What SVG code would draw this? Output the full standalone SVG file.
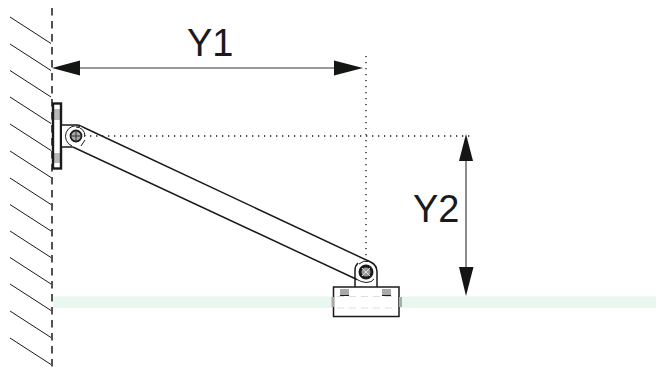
<svg xmlns="http://www.w3.org/2000/svg" width="656" height="369" viewBox="0 0 656 369">
<defs><style>
.h{stroke:#1a1a1a;stroke-width:1;fill:none}
.d{stroke:#1a1a1a;stroke-width:1.3;fill:none;stroke-dasharray:1.3 4.7}
.k{stroke:#1a1a1a;fill:none;stroke-width:1.5}
.n{stroke:#1a1a1a;fill:none;stroke-width:1}
.a{fill:#141614}
.t{font-family:"Liberation Sans",Arial,sans-serif;font-size:38px;fill:#1a1a1a}
</style></defs>
<g id="glass"><rect x="53" y="296.500" width="603" height="11.500" fill="#e8f8ef"/></g>
<g id="wall">
<path class="h" d="M10 17L51 43.500M10 44L51 70.500M10 70.500L51 97M10 97L51 123.500M10 124L51 150.500M10 151L51 177.500M10 178L51 204.500M10 204.500L51 231M10 231L51 257.500M10 257.500L51 284M10 284L51 310.500M10 311L51 337.500M10 338L51 364.500"/>
<line x1="52" y1="8" x2="52" y2="369" stroke="#1a1a1a" stroke-width="1.500" stroke-dasharray="7.500 5.500"/>
</g>
<g id="wall-plate">
<rect x="53" y="103.500" width="8" height="65" fill="#fff"/>
<rect x="52" y="109" width="8" height="11" fill="#b8b8b8"/>
<rect x="52" y="153" width="8" height="10" fill="#b8b8b8"/>
<rect x="53" y="103.500" width="8" height="65" fill="none" stroke="#1a1a1a" stroke-width="2.400"/>
</g>
<g id="arm">
<path d="M62 125H78L370.600 262A11 11 0 0 1 377 272V287H355V279L71.400 146.500H62Z" fill="#fff" stroke="none"/>
<path class="k" d="M62 125H77Q79 125 80.600 126L370.600 262Q377 265 377 272V287M62 147H73L357 279.500M355 287V270Q355 266 358 263"/>
<path class="n" d="M357 279.500Q361 282 366 282.500Q372 282.500 374 279M359 264A10.500 10.500 0 0 1 369 261.500"/>
</g>
<g id="pivot-top">
<circle cx="76" cy="136" r="10.500" fill="#fff" stroke="none"/>
<path class="n" d="M80 126.500A10.500 10.500 0 0 0 72 146"/>
<path class="n" d="M76 127A9 9 0 0 1 85 136M85 140L81 146" stroke-width=".8"/>
<circle cx="76" cy="136" r="5.500" fill="#aaa" stroke="#1a1a1a" stroke-width="1.800"/>
<path d="M76 130V142M70 136H82" stroke="#333" stroke-width="1"/>
</g>
<g id="pivot-bottom">
<circle cx="366" cy="272" r="6" fill="#999" stroke="#1a1a1a" stroke-width="3"/>
<path d="M362 268L370 276M370 268L362 276" stroke="#ddd" stroke-width="1"/>
</g>
<g id="clamp">
<rect x="333.500" y="287" width="65.500" height="29.500" fill="#fff" stroke="#1a1a1a" stroke-width="1.500"/>
<rect x="340" y="289" width="9" height="6" fill="#aaa"/>
<rect x="382" y="289" width="9" height="6" fill="#aaa"/>
<path d="M340 295.500H349M382 295.500H391" stroke="#1a1a1a" stroke-width="1"/>
<rect x="331.500" y="297" width="2.500" height="10" fill="#aaa"/>
<rect x="399" y="297" width="3" height="10" fill="#aaa"/>
<path d="M337 296.500H396M337 308H396" stroke="#ddd" stroke-width="1" stroke-dasharray="7 5"/>
</g>
<g id="connectors">
<line class="d" x1="366" y1="56" x2="366" y2="258"/>
<line class="d" x1="84" y1="136" x2="472" y2="136"/>
<line x1="78" y1="68" x2="336" y2="68" stroke="#777" stroke-width="1.500"/>
<polygon class="a" points="52,68 80,60.500 80,75.500"/>
<polygon class="a" points="363,68 334,60.500 334,75.500"/>
<line x1="466" y1="160" x2="466" y2="270" stroke="#1a1a1a" stroke-width="1"/>
<polygon class="a" points="466,134 459,161 473,161"/>
<polygon class="a" points="466,296 459,267 473.500,267"/>
</g>
<text class="t" x="187" y="56">Y1</text>
<text class="t" x="413" y="222">Y2</text>
</svg>
